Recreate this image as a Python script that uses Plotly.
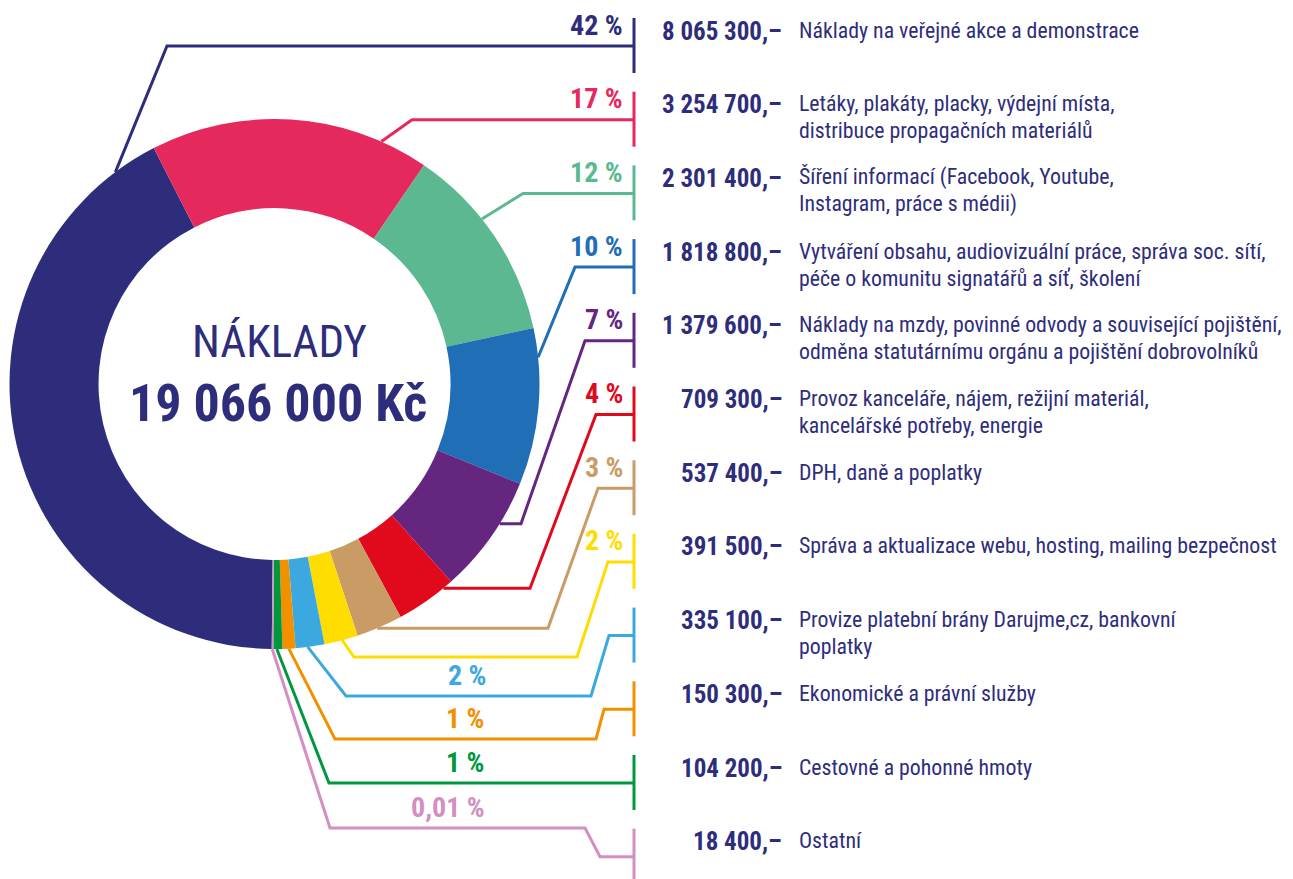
import math
import plotly.graph_objects as go

# ---------------- data ----------------
descriptions = [
    "Náklady na veřejné akce a demonstrace",
    "Letáky, plakáty, placky, výdejní místa,\ndistribuce propagačních materiálů",
    "Šíření informací (Facebook, Youtube,\nInstagram, práce s médii)",
    "Vytváření obsahu, audiovizuální práce, správa soc. sítí,\npéče o komunitu signatářů a síť, školení",
    "Náklady na mzdy, povinné odvody a související pojištění,\nodměna statutárnímu orgánu a pojištění dobrovolníků",
    "Provoz kanceláře, nájem, režijní materiál,\nkancelářské potřeby, energie",
    "DPH, daně a poplatky",
    "Správa a aktualizace webu, hosting, mailing bezpečnost",
    "Provize platební brány Darujme,cz, bankovní\npoplatky",
    "Ekonomické a právní služby",
    "Cestovné a pohonné hmoty",
    "Ostatní",
]
amounts = [8065300, 3254700, 2301400, 1818800, 1379600, 709300,
           537400, 391500, 335100, 150300, 104200, 18400]
pct_labels = ["42 %", "17 %", "12 %", "10 %", "7 %", "4 %",
              "3 %", "2 %", "2 %", "1 %", "1 %", "0,01 %"]
center_title = "NÁKLADY"
currency = "Kč"

# ---------------- style ----------------
colors = ["#2E2D7C", "#E6295D", "#5CB890", "#1F6EB6", "#65267F", "#E10A1C",
          "#C99C66", "#FFDD00", "#3BA9E0", "#F29100", "#009740", "#D48EC1"]
TEXT = "#2E2D7C"
FONT = "Liberation Sans Narrow, Arial Narrow, Roboto Condensed, Roboto, sans-serif"
W, H = 1293, 879
CX, CY, R = 274.5, 384.0, 265.0
HOLE = 0.664
ROT = 180.6
BAR_X = 634
ROW0, ROW_STEP = 46.0, 73.7
DESC_SIZE, DESC_LINE = 21.8, 27.0

# leader anchor angle on the ring (deg clockwise from 12 o'clock)
anchor_angles = [323.1, 23.8, 51.5, 84.2, 121.8, 140.4, 157.2, 165.2,
                 172.8, 176.9, 179.5, 180.5]
# bends: ("h", x) = horizontal to x ; (x, y) point ; y may be "row"
bends = [
    [(167, "row")],
    [(412, "row")],
    [(523, "row")],
    [(575, "row")],
    [("h", 521), (585, "row")],
    [("h", 530), (596, "row")],
    [("h", 548), (598, "row")],
    [(354, 657), ("h", 577), (608, "row")],
    [(346, 696), ("h", 591), (609, "row")],
    [(335, 739), ("h", 596), (604, "row")],
    [(329, "row")],
    [(330, 828), ("h", 585), (600, "row")],
]
# percent label placement: None -> at bar; else (x_right, y_line)
pct_low = [None] * 8 + [(488, 696), (486, 739), (486, 783), (487, 828)]


def fmt(v):
    return f"{v:,}".replace(",", " ")


fig = go.Figure()

fig.add_trace(go.Pie(
    values=amounts, labels=[d.replace("\n", " ") for d in descriptions],
    marker=dict(colors=colors, line=dict(width=0)),
    hole=HOLE, sort=False, direction="clockwise", rotation=ROT,
    textinfo="none", showlegend=False,
    domain=dict(x=[(CX - R) / W, (CX + R) / W],
                y=[1 - (CY + R) / H, 1 - (CY - R) / H]),
))

annotations = []
for i, (amt, desc, pct, col) in enumerate(zip(amounts, descriptions, pct_labels, colors)):
    row_y = ROW0 + i * ROW_STEP
    a = math.radians(anchor_angles[i])
    x, y = CX + R * math.sin(a), CY - R * math.cos(a)
    xs, ys = [x], [y]
    for b in bends[i]:
        if b[0] == "h":
            x = b[1]
        else:
            x = b[0]
            y = row_y if b[1] == "row" else b[1]
        xs.append(x)
        ys.append(y)
    xs.append(BAR_X)
    ys.append(row_y)
    fig.add_trace(go.Scatter(x=xs, y=ys, mode="lines", showlegend=False,
                             hoverinfo="skip",
                             line=dict(color=col, width=3)))
    fig.add_trace(go.Scatter(x=[BAR_X, BAR_X], y=[row_y - 28, row_y + 27],
                             mode="lines", showlegend=False, hoverinfo="skip",
                             line=dict(color=col, width=3)))
    # percent
    if pct_low[i] is None:
        px_, py_ = 625, row_y - 21
    else:
        px_, py_ = pct_low[i][0], pct_low[i][1] - 21
    annotations.append(dict(x=px_, y=py_, xref="x", yref="y", text=f"<b>{pct}</b>",
                            showarrow=False, xanchor="right", yanchor="middle",
                            font=dict(family=FONT, size=28, color=col)))
    # amount
    annotations.append(dict(x=784, y=row_y - 15, xref="x", yref="y",
                            text=f"<b>{fmt(amt)},–</b>",
                            showarrow=False, xanchor="right", yanchor="middle",
                            font=dict(family=FONT, size=25, color=TEXT)))
    # description lines
    for k, line in enumerate(desc.split("\n")):
        annotations.append(dict(x=797, y=row_y - 16 + k * DESC_LINE, xref="x", yref="y",
                                text=line, align="left",
                                showarrow=False, xanchor="left", yanchor="middle",
                                font=dict(family=FONT, size=DESC_SIZE, color=TEXT)))

annotations.append(dict(x=279, y=341, xref="x", yref="y", text=center_title,
                        showarrow=False, xanchor="center", yanchor="middle",
                        font=dict(family=FONT, size=45, color=TEXT)))
annotations.append(dict(x=277.5, y=403.5, xref="x", yref="y",
                        text=f"<b>{fmt(sum(amounts))} {currency}</b>",
                        showarrow=False, xanchor="center", yanchor="middle",
                        font=dict(family=FONT, size=52, color=TEXT)))

fig.update_layout(
    width=W, height=H, margin=dict(l=0, r=0, t=0, b=0),
    paper_bgcolor="white", plot_bgcolor="white",
    xaxis=dict(range=[0, W], visible=False, fixedrange=True),
    yaxis=dict(range=[H, 0], visible=False, fixedrange=True),
    annotations=annotations,
)

fig.write_html("out.html", config={"displayModeBar": False})
